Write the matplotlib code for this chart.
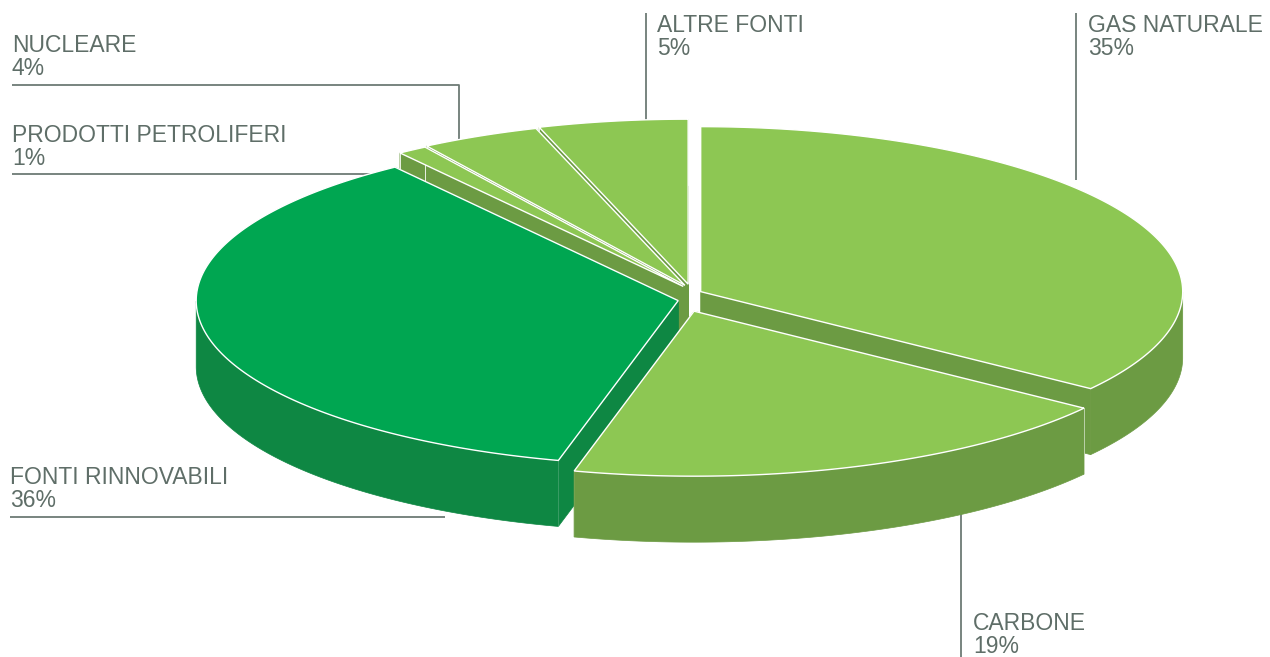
import numpy as np
import matplotlib.pyplot as plt
from matplotlib.patches import Polygon

plt.rcParams['font.family'] = ['Liberation Sans', 'DejaVu Sans']

# dati (percentuali)
labels = ['GAS NATURALE', 'CARBONE', 'FONTI RINNOVABILI',
          'PRODOTTI PETROLIFERI', 'NUCLEARE', 'ALTRE FONTI']
values = [35, 19, 36, 1, 4, 5]
renewable = [False, False, True, False, False, False]

LIGHT_TOP, LIGHT_SIDE = '#8dc753', '#6c9b43'
DARK_TOP, DARK_SIDE = '#00a651', '#0e8743'
TEXT_COL = '#5f6e68'
LINE_COL = '#6d7b75'

# geometria della torta "3D" (pixel)
cx, cy = 690, 298
rx, ry = 482, 165
depth = 66
ex, ey = 12, 14


def arc(ts, ox, oy, dz=0.0):
    return np.column_stack([cx + ox + rx * np.cos(ts),
                            cy + oy - ry * np.sin(ts) + dz])


fig = plt.figure(figsize=(12.7, 6.57), dpi=100)
ax = fig.add_axes([0, 0, 1, 1])
ax.set_xlim(0, 1270)
ax.set_ylim(657, 0)
ax.axis('off')

# spicchi in senso orario a partire dall'alto
total = float(sum(values))
start = 90.0
wedges = []
for lab, v, ren in zip(labels, values, renewable):
    span = v / total * 360.0
    t1 = np.radians(start)
    t0 = np.radians(start - span)
    start -= span
    mid = (t0 + t1) / 2
    wedges.append(dict(t0=t0, t1=t1, mid=mid, ren=ren,
                       ox=ex * np.cos(mid), oy=-ey * np.sin(mid)))

# disegno dal fondo verso il davanti
wedges.sort(key=lambda w: -np.sin(w['mid']))
z = 2
for w in wedges:
    top_c = DARK_TOP if w['ren'] else LIGHT_TOP
    side_c = DARK_SIDE if w['ren'] else LIGHT_SIDE
    ox, oy = w['ox'], w['oy']
    apex = np.array([[cx + ox, cy + oy]])
    apex_b = apex + [0, depth]
    ts = np.linspace(w['t0'], w['t1'], 300)
    top_arc = arc(ts, ox, oy)

    # pareti radiali
    for t in (w['t0'], w['t1']):
        p = arc(np.array([t]), ox, oy)
        quad = np.vstack([apex, p, p + [0, depth], apex_b])
        ax.add_patch(Polygon(quad, closed=True, facecolor=side_c,
                             edgecolor=side_c, lw=0.5, zorder=z))
        ax.plot([p[0, 0], p[0, 0]], [p[0, 1], p[0, 1] + depth],
                color='white', lw=0.6, zorder=z + 0.5)
    # parete esterna (solo parte frontale)
    front = np.sin(ts) <= 0
    if front.sum() > 1:
        fa = top_arc[front]
        wall = np.vstack([fa, (fa + [0, depth])[::-1]])
        ax.add_patch(Polygon(wall, closed=True, facecolor=side_c,
                             edgecolor=side_c, lw=0.5, zorder=z + 0.6))
    # faccia superiore
    ax.add_patch(Polygon(np.vstack([apex, top_arc]), closed=True,
                         facecolor=top_c, edgecolor='white', lw=1.0,
                         zorder=z + 1))
    z += 2

# etichette e linee guida
label_pos = {
    'GAS NATURALE': (1088, 32),
    'CARBONE': (973, 630),
    'FONTI RINNOVABILI': (10, 484),
    'PRODOTTI PETROLIFERI': (12, 142),
    'NUCLEARE': (12, 52),
    'ALTRE FONTI': (657, 32),
}
leaders = {
    'GAS NATURALE': ([1076, 1076], [13, 180]),
    'CARBONE': ([961, 961], [508, 660]),
    'FONTI RINNOVABILI': ([10, 445], [517, 517]),
    'PRODOTTI PETROLIFERI': ([12, 392], [174, 174]),
    'NUCLEARE': ([12, 459, 459], [85, 85, 152]),
    'ALTRE FONTI': ([646, 646], [13, 126]),
}

for lab, v in zip(labels, values):
    x, y = label_pos[lab]
    ax.text(x, y, lab, fontsize=16.5, color=TEXT_COL, ha='left', va='baseline')
    ax.text(x, y + 23, f'{v}%', fontsize=16.5, color=TEXT_COL, ha='left', va='baseline')
    lx, ly = leaders[lab]
    ax.plot(lx, ly, color=LINE_COL, lw=1.3, zorder=1, solid_capstyle='butt')

fig.savefig('out.png', dpi=100, facecolor='white')
